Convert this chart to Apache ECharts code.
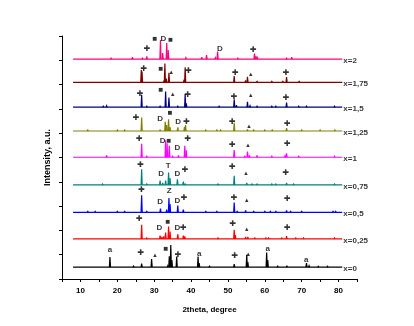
<!DOCTYPE html>
<html><head><meta charset="utf-8">
<script src="https://cdn.jsdelivr.net/npm/echarts@6/dist/echarts.min.js"></script>
<style>html,body{margin:0;padding:0;background:#fff}#c{width:414px;height:326px}</style>
</head><body><div id="c"></div><script>
// ---- data ----
const seriesNames = ['x=0','x=0,25','x=0,5','x=0,75','x=1','x=1,25','x=1,5','x=1,75','x=2'];
const baselines = [0.49, 1.65, 2.74, 3.87, 5.01, 6.09, 7.07, 8.09, 9.05];
const xTicks = [10,20,30,40,50,60,70,80];
const scanRange = [8, 81];

const peaks_x0 = [[18.0,0.41],[24.4,0.04],[26.6,0.14],[29.3,0.33],[33.7,0.06],[34.1,0.45],[34.5,0.91],[34.8,0.29],[36.1,0.43],[41.9,0.43],[42.2,0.16],[45.0,0.04],[51.7,0.12],[55.1,0.51],[55.4,0.21],[60.5,0.60],[60.8,0.29],[63.5,0.04],[66.0,0.04],[71.3,0.16],[72.0,0.06],[74.5,0.03],[77.0,0.03]];
const peaks_x025 = [[26.6,0.58],[28.0,0.04],[31.6,0.14],[32.1,0.08],[32.6,0.10],[33.1,0.26],[33.9,0.51],[34.3,0.30],[36.4,0.19],[37.9,0.14],[38.3,0.10],[47.3,0.04],[51.7,0.38],[52.0,0.16],[54.8,0.08],[55.4,0.08],[57.3,0.04],[60.3,0.04],[61.0,0.04],[64.6,0.04],[65.9,0.12],[68.4,0.04],[70.5,0.04],[78.9,0.04]];
const peaks_x05 = [[12.0,0.04],[14.0,0.04],[20.0,0.04],[22.0,0.04],[26.6,0.71],[28.0,0.04],[31.7,0.16],[33.4,0.12],[34.0,0.59],[34.3,0.34],[36.4,0.28],[37.9,0.12],[44.0,0.04],[47.0,0.04],[51.7,0.41],[52.5,0.04],[54.8,0.08],[57.0,0.04],[60.0,0.04],[61.5,0.04],[63.0,0.04],[65.9,0.08],[67.0,0.04],[70.0,0.04],[78.5,0.04],[79.2,0.04]];
const peaks_x075 = [[16.0,0.04],[26.6,0.65],[28.0,0.04],[31.6,0.18],[32.3,0.08],[33.1,0.18],[33.9,0.51],[34.3,0.28],[36.3,0.23],[37.9,0.14],[38.4,0.04],[47.3,0.04],[51.7,0.38],[55.1,0.08],[56.5,0.04],[57.9,0.04],[61.9,0.04],[63.0,0.04],[65.9,0.08],[67.8,0.04],[78.9,0.04]];
const peaks_x1 = [[17.1,0.08],[26.6,0.55],[28.0,0.04],[33.1,0.69],[33.5,0.58],[34.1,0.47],[35.0,0.04],[36.6,0.08],[38.3,0.47],[38.7,0.29],[51.7,0.30],[54.6,0.04],[55.3,0.23],[55.8,0.08],[57.9,0.08],[61.9,0.04],[65.5,0.06],[65.9,0.16],[69.2,0.04],[78.9,0.04]];
const peaks_x125 = [[12.0,0.04],[20.0,0.04],[22.0,0.04],[26.6,0.56],[31.6,0.04],[33.0,0.38],[33.4,0.25],[33.9,0.48],[34.3,0.16],[36.4,0.15],[38.2,0.16],[38.5,0.25],[44.0,0.04],[47.0,0.04],[48.0,0.04],[51.7,0.34],[55.3,0.07],[57.0,0.04],[60.0,0.04],[62.0,0.04],[65.9,0.12],[70.0,0.04],[75.0,0.04],[79.0,0.04]];
const peaks_x15 = [[16.2,0.04],[17.1,0.06],[26.6,0.51],[28.0,0.04],[31.6,0.04],[33.1,0.65],[34.0,0.40],[36.4,0.04],[38.4,0.53],[38.7,0.16],[47.6,0.04],[51.7,0.33],[52.3,0.08],[55.3,0.22],[56.0,0.06],[57.9,0.04],[61.9,0.04],[63.0,0.04],[65.9,0.19],[69.2,0.04],[71.3,0.04],[78.9,0.04]];
const peaks_x175 = [[26.5,0.51],[26.7,0.45],[32.7,0.08],[32.9,0.78],[33.3,0.16],[34.0,0.40],[38.1,0.12],[38.4,0.62],[51.7,0.26],[54.8,0.08],[55.3,0.23],[57.9,0.04],[61.9,0.04],[64.9,0.04],[65.9,0.22],[69.3,0.04]];
const peaks_x2 = [[18.3,0.04],[24.1,0.08],[26.8,0.04],[28.0,0.11],[31.7,0.78],[32.3,0.25],[33.4,0.66],[33.8,0.37],[38.6,0.06],[42.9,0.08],[44.2,0.16],[46.6,0.06],[47.2,0.31],[52.7,0.04],[57.2,0.23],[57.6,0.12],[58.0,0.06],[65.9,0.04],[67.3,0.08]];

const ann_x0 = [[18.0,1.19,'a'],[26.4,1.08,'*'],[30.2,0.99,'▲'],[33.2,1.26,'■'],[36.5,0.99,'*'],[42.2,1.03,'a'],[51.9,0.95,'*'],[55.5,1.03,'▲'],[60.8,1.23,'a'],[71.2,0.78,'a']];
const ann_x025 = [[26.0,2.46,'*'],[31.4,2.11,'D'],[33.7,2.36,'■'],[36.3,2.11,'D'],[37.9,2.11,'*'],[51.3,2.29,'*'],[55.1,2.05,'▲'],[66.1,2.09,'*']];
const ann_x05 = [[26.6,3.66,'*'],[31.6,3.18,'D'],[34.1,3.62,'Z'],[36.3,3.21,'D'],[38.1,3.35,'*'],[51.7,3.35,'*'],[55.1,3.22,'▲'],[66.1,3.29,'*']];
const ann_x075 = [[26.3,4.69,'*'],[31.9,4.31,'D'],[33.8,4.65,'T'],[36.3,4.31,'D'],[38.4,4.49,'*'],[51.2,4.62,'*'],[54.9,4.35,'▲'],[65.7,4.39,'*']];
const ann_x1 = [[26.0,5.75,'*'],[32.3,5.68,'D'],[34.0,5.68,'■'],[36.3,5.38,'D'],[39.1,5.75,'*'],[51.2,5.54,'*'],[55.4,5.49,'▲'],[66.1,5.58,'*']];
const ann_x125 = [[25.1,6.65,'*'],[31.6,6.58,'D'],[34.3,6.86,'■'],[36.5,6.45,'D'],[38.8,6.47,'*'],[51.2,6.45,'*'],[55.7,6.27,'▲'],[66.1,6.40,'*']];
const ann_x15 = [[26.2,7.64,'*'],[31.8,7.78,'■'],[35.0,7.60,'▲'],[39.1,7.60,'*'],[51.7,7.48,'*'],[56.2,7.56,'▲'],[65.8,7.44,'*']];
const ann_x175 = [[27.2,8.67,'*'],[31.8,8.63,'■'],[34.6,8.49,'▲'],[39.3,8.55,'*'],[52.0,8.50,'*'],[56.2,8.42,'▲'],[65.8,8.50,'*']];
const ann_x2 = [[28.1,9.49,'*'],[30.2,9.90,'■'],[32.5,9.88,'D'],[34.5,9.86,'■'],[47.8,9.47,'D'],[56.9,9.45,'*']];

// ---- styles / build ----
const colors = ['#000000','#FF0000','#0000FF','#008080','#FF00FF','#808000','#000080','#800000','#FF0080'];
const allPeaks = [peaks_x0,peaks_x025,peaks_x05,peaks_x075,peaks_x1,peaks_x125,peaks_x15,peaks_x175,peaks_x2];
const allAnn = [ann_x0,ann_x025,ann_x05,ann_x075,ann_x1,ann_x125,ann_x15,ann_x175,ann_x2];
const FONT = 'Liberation Sans, DejaVu Sans, sans-serif';
const HALF_W = 0.15;
const LW = 1.2;

const series = [];
allPeaks.forEach((pk, i) => {
  const col = colors[i];
  const b = baselines[i];
  // baseline of the scan
  series.push({
    type:'line', name: seriesNames[i], data: [[scanRange[0], b], [scanRange[1], b]],
    showSymbol:false, lineStyle:{color:col, width:LW}, silent:true, animation:false, z:2
  });
  // peaks
  series.push({
    type:'custom', name: seriesNames[i] + ' peaks', silent:true, animation:false, z:3,
    data: pk.map(p => [p[0], p[1], b]),
    renderItem: (params, api) => {
      const x = api.value(0), h = api.value(1), base = api.value(2);
      const L = api.coord([x - HALF_W, base]);
      const T = api.coord([x, base + h]);
      const R = api.coord([x + HALF_W, base]);
      return {type:'polyline', shape:{points:[L, T, R]},
        style:{stroke: col, lineWidth: LW, fill: null, lineJoin:'miter', miterLimit:3}};
    }
  });
});

const annData = [];
allAnn.forEach(list => list.forEach(a => {
  const t = a[2] === '*' ? '✚' : a[2];
  const fs = t === '▲' ? 6 : 8;
  annData.push({value:[a[0], a[1]], name:t, label:{fontSize:fs}});
}));
series.push({
  type:'scatter', data: annData, symbolSize:0, silent:true, animation:false, z:5,
  label:{show:true, position:'inside', formatter:'{b}', color:'#000', fontWeight:'bold', fontFamily:FONT, fontSize:8}
});

series.push({
  type:'scatter', silent:true, animation:false, symbolSize:0, z:5,
  data: seriesNames.map((n,i)=>({value:[81.3, baselines[i]-0.07], name:n})),
  label:{show:true, position:'inside', align:'left', formatter:'{b}', color:'#000', fontWeight:'bold', fontFamily:FONT, fontSize:8}
});

const chart = echarts.init(document.getElementById('c'), null, {renderer:'canvas'});
chart.setOption({
  backgroundColor:'#fff',
  animation:false,
  grid:{left:62, right:57, top:36, bottom:47, containLabel:false},
  xAxis:{
    type:'value', min:5, max:85, interval:5,
    name:'2theta, degree', nameLocation:'middle', nameGap:27,
    nameTextStyle:{color:'#000', fontWeight:'bold', fontSize:8, fontFamily:FONT},
    axisLine:{lineStyle:{color:'#000', width:1}},
    axisTick:{show:true, length:3, lineStyle:{color:'#000'}},
    axisLabel:{color:'#000', fontWeight:'bold', fontSize:8, fontFamily:FONT, margin:8,
      formatter: v => xTicks.indexOf(v) >= 0 ? String(v) : ''},
    splitLine:{show:false}
  },
  yAxis:{
    type:'value', min:0, max:10, interval:1,
    name:'Intensity, a.u.', nameLocation:'middle', nameGap:10,
    nameTextStyle:{color:'#000', fontWeight:'bold', fontSize:9, fontFamily:FONT},
    axisLine:{show:true, lineStyle:{color:'#000', width:1}},
    axisTick:{show:true, length:3, lineStyle:{color:'#000'}},
    axisLabel:{show:false},
    splitLine:{show:false}
  },
  series: series
});
</script></body></html>
